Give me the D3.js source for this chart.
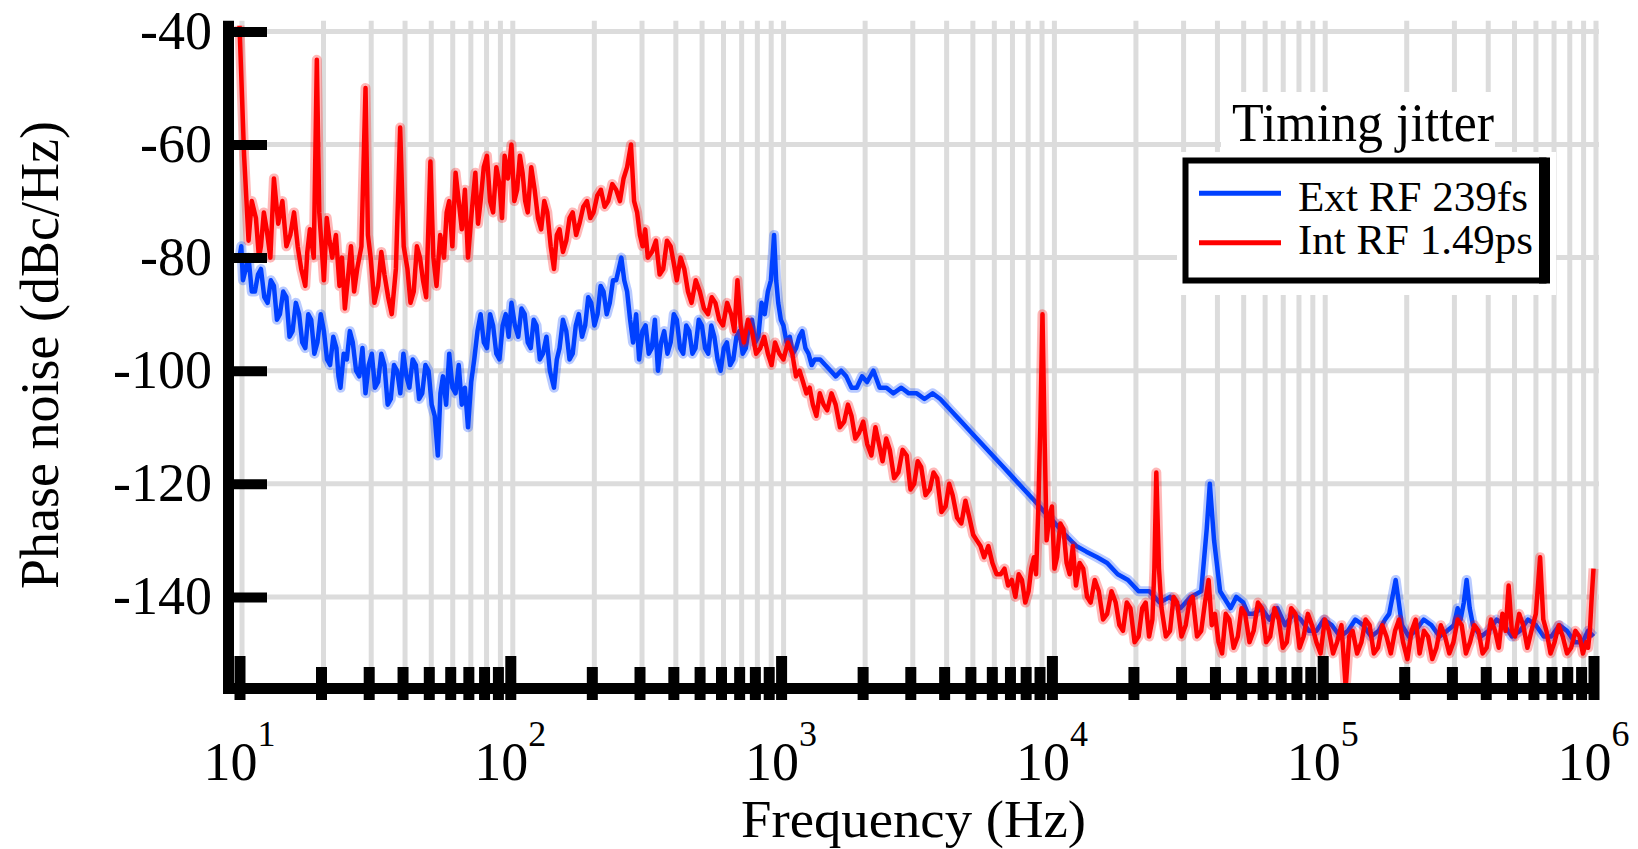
<!DOCTYPE html>
<html><head><meta charset="utf-8">
<script src="https://cdn.jsdelivr.net/npm/d3@7"></script>
<style>body{margin:0;background:#fff;overflow:hidden}</style>
</head><body><svg id="c" width="1638" height="849"></svg>
<script>
// ---------------- data ----------------
const xTickExponents = [1, 2, 3, 4, 5, 6];
const yTickValues = [-40, -60, -80, -100, -120, -140];
const xAxisTitle = "Frequency (Hz)";
const yAxisTitle = "Phase noise (dBc/Hz)";
const legendTitle = "Timing jitter";
const seriesNames = ["Ext RF 239fs", "Int RF 1.49ps"];
const seriesColors = ["#0040ff", "#ff0000"];

// Ext RF (blue): frequency (Hz) and phase noise (dBc/Hz)
const freqExt = [10,10.15,10.3,10.55,10.8,11.1,11.4,11.7,12.0,12.35,12.7,13.05,13.4,13.75,14.1,14.5,14.9,15.3,15.7,16.15,16.6,17.05,17.5,17.95,18.4,18.9,19.4,19.95,20.5,21.05,21.6,22.2,22.8,23.2,23.6,24.25,24.9,25.55,26.2,26.95,27.7,28.45,29.2,30.0,30.8,31.65,32.5,33.4,34.3,35.25,36.2,37.2,38.2,39.25,40.3,41.35,42.4,43.6,44.8,46.05,47.3,48.6,49.9,51.25,52.6,54.0,55.2,56.4,57.95,59.5,61.15,62.8,64.5,66.2,68.0,69.8,71.7,73.6,75.65,77.7,79.85,82.0,84.2,86.4,88.8,91.2,93.7,96.2,98.6,
101,104,107,110,113,116,119,122,125,128.5,132,136,140,145,148.5,152,156.5,161,165.5,170,174.5,179,184,189,194,199,204.5,210,215.5,221,227,233,239.5,246,251.5,257,263.5,270,277,284,291.5,299,307.5,316,324.5,333,342,351,360.5,370,380.5,391,401.5,412,423.5,435,446.5,458,470.5,483,496.5,510,524,538,552.5,567,582.5,598,614.5,631,648.5,666,684,702,721.5,741,761,781,802.5,824,847,870,893.5,917,930,942,959,976,998,
1020,1048,1077,1106,1136,1167,1198,1230,1263,1297,1332,1394,1456,1524,1592,1666,1740,1821,1902,1990,2078,2193,2312,2450,2596,2780,2963,3170,3384,3627,3870,4230,4627,5057,5528,6043,6606,7221,7893,8628,9390,
10280,11200,12300,13400,14700,16000,17500,19100,20900,22900,25000,27300,29800,32600,35600,37300,38300,39700,41800,45700,48000,50900,53000,55600,59500,63500,68000,72600,78000,83000,89000,94900,
101000,108000,116000,124000,132000,141000,151000,161000,170000,176000,181000,186000,191000,196000,208000,220000,236000,252000,270000,288000,305000,315000,323000,332000,340000,349000,359000,384000,410000,439000,469000,500000,535000,573000,613000,655000,699000,748000,798000,853000,912000,955000,1000000];
const noiseExt = [-80,-78,-84,-82,-80,-86,-86,-83,-82,-87,-88,-84,-85,-91,-90,-86,-87,-94,-93,-88,-90,-95,-96,-90,-91,-97,-95,-90,-93,-98,-99,-94,-96,-101,-103,-97,-98,-93,-95,-100,-101,-96,-104,-99,-97,-103,-102,-97,-99,-106,-105,-99,-100,-104,-97,-101,-103,-98,-99,-105,-104,-99,-100,-106,-108,-115,-104,-101,-106,-97,-103,-104,-99,-106,-103,-110,-102,-98,-93,-90,-95,-96,-90,-92,-97,-98,-92,-90,-94,
-88,-92,-94,-89,-90,-95,-96,-91,-92,-98,-97,-94,-100,-103,-98,-96,-91,-93,-98,-97,-92,-90,-94,-92,-87,-88,-92,-90,-85,-86,-90,-88,-84,-84,-82,-80,-84,-86,-91,-95,-90,-98,-93,-92,-97,-96,-91,-100,-95,-93,-97,-95,-90,-91,-96,-97,-92,-93,-97,-96,-91,-92,-96,-97,-92,-94,-98,-100,-96,-95,-99,-98,-94,-93,-97,-96,-92,-91,-95,-94,-88,-90,-86,-84,-80,-76,-84,-88,-91,
-92,-95,-94,-97,-96,-94,-93,-96,-97,-99,-98,-98,-99,-100,-101,-100,-101,-103,-103,-101,-102,-100,-103,-103,-104,-103,-104,-104,-105,-104,-105,-107,-109,-111,-113,-115,-117,-119,-121,-123,-125,
-127,-129,-131,-132,-133,-134,-136,-137,-139,-139,-141,-140,-142,-140,-139,-128,-120,-130,-139,-142,-140,-141,-143,-143,-142,-144,-142,-145,-143,-144,-146,-146,
-144,-145,-147,-146,-144,-145,-147,-146,-144,-143,-140,-137,-141,-145,-147,-146,-144,-145,-147,-146,-145,-142,-144,-141,-137,-142,-145,-147,-146,-144,-145,-147,-146,-144,-145,-147,-147,-145,-146,-148,-148,-146,-147];

// Int RF (red): frequency (Hz) and phase noise (dBc/Hz)
const freqInt = [10,10.4,10.8,11.1,11.5,11.8,12.0,12.3,12.6,13.0,13.4,13.9,14.4,14.9,15.4,15.9,16.4,16.9,17.5,17.8,18.2,18.8,19.3,19.7,20.1,20.5,21.0,21.5,22.0,22.7,23.4,23.9,24.5,25.1,25.8,26.5,27.2,28.2,29.2,29.8,30.5,31.5,32.5,33.4,34.3,35.4,36.5,37.8,39.2,40.4,41.7,42.8,44.0,45.2,46.4,47.6,48.9,49.8,50.7,52.0,53.4,55.1,56.9,58.2,59.5,61.1,62.8,64.5,66.2,68.0,69.8,72.0,74.3,76.0,77.7,79.8,82.0,84.2,86.4,88.8,91.2,93.2,95.3,98.0,
101,103.5,106,108.5,111,113.5,116,119.5,123,126.5,130,133.5,137,141,145,148.5,152,156.5,161,165.5,170,175,180,186,192,197.5,203,209.5,216,223,230,238,246,254,262,270,279,286.5,294,301,308,315,322,333.5,345,356,367,379,391,401.5,412,425.5,439,453,467,484,501,519,537,554.5,572,591,610,632,654,672,690,709.5,729,754.5,780,809,838,866,894,922,950,985,
1020,1060,1100,1135,1170,1205,1240,1275,1310,1350,1390,1435,1480,1535,1590,1650,1710,1765,1820,1880,1940,2010,2080,2155,2230,2300,2370,2445,2520,2615,2710,2810,2910,3005,3100,3195,3290,3415,3540,3655,3770,3910,4050,4175,4300,4465,4630,4795,4960,5120,5280,5450,5620,5825,6030,6250,6470,6680,6890,7110,7330,7540,7750,7975,8200,8390,8580,8740,8900,9060,9230,9400,9560,9780,
10000,10220,10450,10740,11030,11330,11630,11950,12270,12660,13050,13480,13900,14400,14900,15450,16000,16600,17200,17750,18300,18900,19500,20200,20900,21550,22200,22850,23500,23900,24300,24850,25400,26350,27300,28150,29000,30100,31200,32150,33100,34350,35600,36750,37900,38950,40000,41250,42500,43850,45200,46900,48600,50150,51700,53650,55600,57650,59700,61850,64000,66400,68800,71250,73700,76500,79300,82150,85000,88150,91300,94750,98200,
101800,105400,109200,113000,117300,121600,125300,129000,134000,139000,144000,149000,154500,160000,166000,172000,178500,185000,191500,198000,205500,213000,220500,228000,236500,245000,254000,263000,273000,283000,293500,304000,315000,326000,338000,350000,363000,376000,389500,403000,418000,433000,447000,461000,473500,486000,499500,513000,531500,550000,570000,590000,612500,635000,652500,670000,694000,718000,744000,770000,798500,827000,857500,888000,914000,940000,955000,970000,985000,1000000];
const noiseInt = [-39,-62,-77,-70,-73,-80,-78,-72,-75,-80,-66,-74,-70,-78,-76,-72,-78,-82,-85,-79,-75,-80,-45,-72,-78,-84,-73,-77,-80,-76,-85,-80,-89,-84,-78,-86,-82,-78,-50,-76,-80,-88,-85,-79,-83,-87,-90,-82,-57,-78,-82,-88,-86,-78,-80,-84,-87,-75,-63,-80,-85,-76,-80,-72,-70,-78,-65,-70,-75,-68,-80,-72,-65,-74,-70,-64,-62,-70,-72,-64,-67,-73,-62,-66,
-60,-70,-68,-62,-65,-70,-72,-64,-68,-73,-75,-70,-72,-78,-82,-76,-75,-79,-77,-73,-72,-76,-74,-71,-70,-73,-72,-69,-68,-71,-70,-67,-68,-70,-66,-64,-60,-70,-72,-76,-78,-75,-80,-79,-77,-83,-82,-77,-78,-81,-84,-80,-82,-86,-88,-84,-86,-89,-90,-87,-88,-91,-92,-88,-90,-93,-84,-92,-95,-91,-93,-97,-96,-94,-97,-99,-95,-97,
-98,-95,-97,-101,-100,-102,-104,-103,-106,-108,-104,-106,-107,-104,-106,-110,-109,-106,-108,-112,-111,-109,-113,-115,-110,-113,-116,-112,-114,-119,-118,-114,-115,-121,-120,-116,-117,-122,-121,-118,-119,-125,-124,-120,-122,-126,-127,-123,-126,-129,-130,-131,-133,-131,-134,-136,-136,-135,-138,-137,-140,-136,-137,-141,-139,-135,-133,-136,-125,-110,-90,-112,-130,-126,
-124,-135,-133,-127,-128,-134,-136,-131,-138,-134,-135,-140,-141,-137,-139,-144,-143,-139,-141,-145,-146,-141,-142,-148,-147,-142,-141,-147,-144,-135,-118,-135,-142,-147,-146,-140,-141,-147,-145,-141,-140,-147,-146,-141,-137,-145,-143,-148,-150,-143,-144,-149,-147,-142,-143,-148,-146,-141,-142,-148,-147,-142,-144,-149,-148,-142,-143,-149,-147,-143,-145,-148,-150,
-144,-146,-150,-148,-145,-156,-147,-146,-150,-148,-144,-145,-150,-149,-145,-147,-150,-146,-144,-148,-151,-146,-144,-150,-146,-147,-151,-149,-145,-147,-150,-148,-144,-145,-150,-148,-145,-146,-150,-149,-144,-146,-149,-143,-146,-138,-146,-147,-143,-145,-149,-146,-143,-133,-144,-146,-150,-148,-145,-147,-150,-149,-146,-147,-150,-148,-149,-146,-140,-135];

// ---------------- chart ----------------
const svg = d3.select("#c");
const FONT = "'Liberation Serif','Times New Roman',serif";
const x = d3.scaleLog().domain([10, 1e6]).range([239.5, 1593.5]);
const y = d3.scaleLinear().domain([-156.2, -38.1]).range([688.5, 20.7]);
const GRID = "#dcdcdc";

// grid
const gGrid = svg.append("g");
gGrid.selectAll("line.v").data(x.ticks()).join("line")
  .attr("x1", d => x(d) + 2.5).attr("x2", d => x(d) + 2.5)
  .attr("y1", 20.7).attr("y2", 683)
  .attr("stroke", GRID).attr("stroke-width", 5);
gGrid.selectAll("line.h").data(yTickValues).join("line")
  .attr("x1", 234).attr("x2", 1599)
  .attr("y1", d => y(d)).attr("y2", d => y(d))
  .attr("stroke", GRID).attr("stroke-width", 5);

// legend backgrounds (white, covering grid)
svg.append("rect").attr("x", 1221).attr("y", 92).attr("width", 274).attr("height", 66).attr("fill", "#fff");
svg.append("rect").attr("x", 1177).attr("y", 152).attr("width", 379).attr("height", 143).attr("fill", "#fff");

// series
const series = [
  {f: freqExt, v: noiseExt, color: seriesColors[0]},
  {f: freqInt, v: noiseInt, color: seriesColors[1]}
];
const line = d3.line().x(d => x(d[0])).y(d => y(d[1]));
series.forEach(s => {
  const pts = s.f.map((f, i) => [f, s.v[i]]);
  svg.append("path").attr("d", line(pts)).attr("fill", "none")
    .attr("stroke", s.color).attr("stroke-opacity", 0.28).attr("stroke-width", 10)
    .attr("stroke-linejoin", "round");
  svg.append("path").attr("d", line(pts)).attr("fill", "none")
    .attr("stroke", s.color).attr("stroke-width", 4.5)
    .attr("stroke-linejoin", "round");
});

// x axis
const isDecade = d => Math.abs(Math.log10(d) - Math.round(Math.log10(d))) < 1e-9;
const xAxis = d3.axisBottom(x).tickValues(x.ticks()).tickFormat("").tickSizeOuter(0);
const gx = svg.append("g").attr("transform", "translate(0,688.5)").call(xAxis);
gx.select(".domain").remove();
gx.selectAll(".tick line")
  .attr("stroke", "#000").attr("stroke-width", 11)
  .attr("y1", 11.5)
  .attr("y2", d => isDecade(d) ? -32.5 : -21.5);
svg.append("line").attr("x1", 223).attr("x2", 1599).attr("y1", 688.5).attr("y2", 688.5)
  .attr("stroke", "#000").attr("stroke-width", 11);

// y axis
const yAxis = d3.axisLeft(y).tickValues(yTickValues).tickFormat(d => String(d)).tickSizeOuter(0);
const gy = svg.append("g").attr("transform", "translate(228.5,0)").call(yAxis);
gy.select(".domain").remove();
gy.selectAll(".tick line").attr("stroke", "#000").attr("stroke-width", 10).attr("x1", -5.5).attr("x2", 38.5);
gy.selectAll(".tick text").attr("x", -16.5).attr("dy", "0.31em")
  .attr("font-family", FONT).attr("font-size", 54).attr("fill", "#000").attr("text-anchor", "end");
svg.append("line").attr("x1", 228.5).attr("x2", 228.5).attr("y1", 20.7).attr("y2", 694)
  .attr("stroke", "#000").attr("stroke-width", 11);

// x tick labels (10^n)
xTickExponents.forEach(e => {
  const cx = x(Math.pow(10, e));
  const t = svg.append("text").attr("x", cx - 36).attr("y", 780)
    .attr("font-family", FONT).attr("font-size", 54).attr("fill", "#000");
  t.append("tspan").text("10");
  t.append("tspan").attr("font-size", 36).attr("dy", -34).text(String(e));
});

// axis titles
svg.append("text").attr("x", 913.5).attr("y", 837).attr("text-anchor", "middle")
  .attr("font-family", FONT).attr("font-size", 52).attr("textLength", 345).attr("lengthAdjust", "spacingAndGlyphs")
  .attr("fill", "#000").text(xAxisTitle);
svg.append("text").attr("transform", "translate(58,355) rotate(-90)").attr("text-anchor", "middle")
  .attr("font-family", FONT).attr("font-size", 54).attr("fill", "#000").text(yAxisTitle);

// legend
svg.append("text").attr("x", 1232).attr("y", 141).attr("font-family", FONT).attr("font-size", 54)
  .attr("textLength", 262).attr("lengthAdjust", "spacingAndGlyphs").attr("fill", "#000").text(legendTitle);
svg.append("rect").attr("x", 1185.5).attr("y", 160.5).attr("width", 358).attr("height", 120)
  .attr("fill", "#fff").attr("stroke", "#000").attr("stroke-width", 6);
svg.append("rect").attr("x", 1539).attr("y", 157.5).attr("width", 11).attr("height", 126).attr("fill", "#000");
const legY = [193.3, 242.7];
const legBase = [210.5, 254];
const legLen = [230, 235];
seriesNames.forEach((n, i) => {
  svg.append("line").attr("x1", 1199).attr("x2", 1281).attr("y1", legY[i]).attr("y2", legY[i])
    .attr("stroke", seriesColors[i]).attr("stroke-width", 5);
  svg.append("text").attr("x", 1298).attr("y", legBase[i]).attr("font-family", FONT).attr("font-size", 42)
    .attr("textLength", legLen[i]).attr("lengthAdjust", "spacingAndGlyphs").attr("fill", "#000").text(n);
});
</script></body></html>
